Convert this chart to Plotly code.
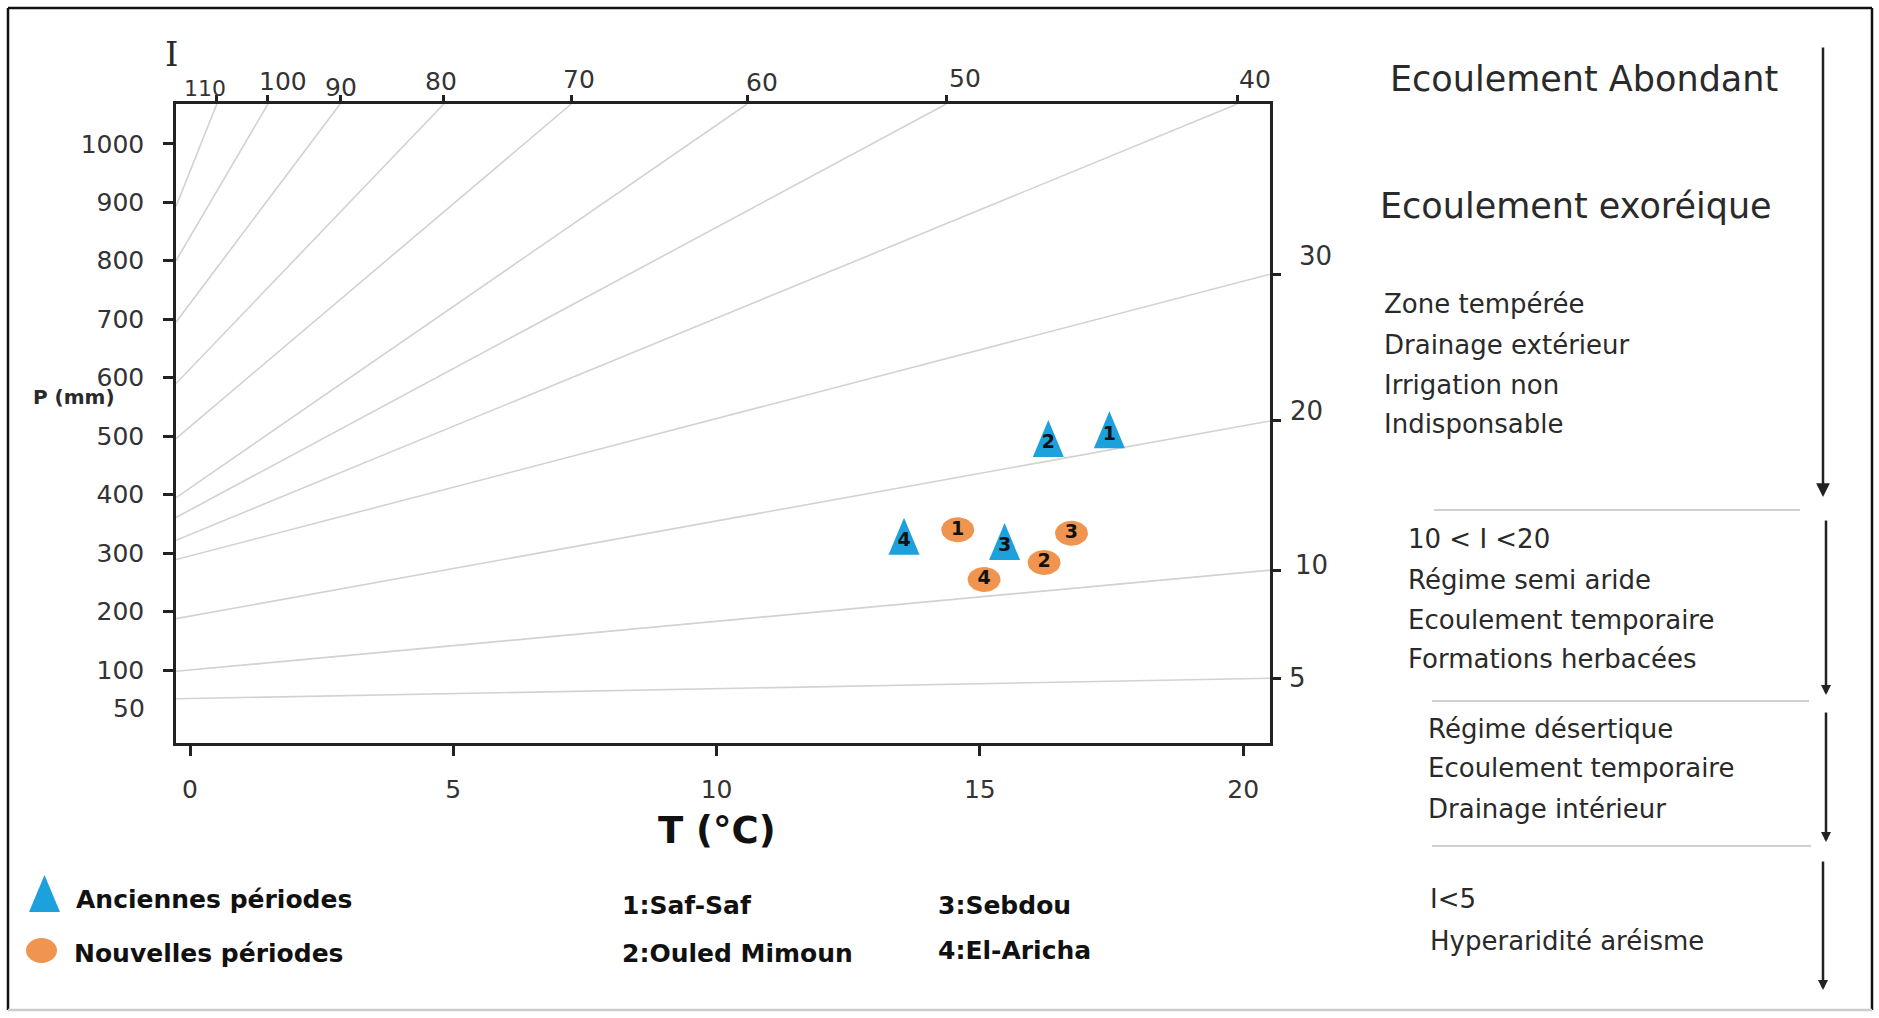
import math
import plotly.graph_objects as go

# ---------------- data ----------------
# De Martonne aridity index iso-lines (I), read from the abacus
iso_I = [110, 100, 90, 80, 70, 60, 50, 40, 30, 20, 10, 5]
iso_P_start = [893, 800, 695, 590, 496, 395, 361, 322, 289, 188, 98, 51]      # P (mm) on left axis
iso_T_end = [0.51, 1.48, 2.85, 4.82, 7.24, 10.58, 14.36, 19.89, 20.51, 20.51, 20.51, 20.51]
iso_P_end = [1068, 1068, 1068, 1068, 1068, 1068, 1068, 1068, 777, 526, 271, 86]

top_I_labels = ["110", "100", "90", "80", "70", "60", "50", "40"]
right_I_labels = ["30", "20", "10", "5"]

P_ticks = [100, 200, 300, 400, 500, 600, 700, 800, 900, 1000]
T_ticks = [0, 5, 10, 15, 20]

station_ids = ["1", "2", "3", "4"]
station_names = ["1:Saf-Saf", "2:Ouled Mimoun", "3:Sebdou", "4:El-Aricha"]
anciennes_T = [17.46, 16.30, 15.47, 13.56]
anciennes_P = [511, 496, 320, 329]
nouvelles_T = [14.58, 16.22, 16.74, 15.08]
nouvelles_P = [340, 284, 334, 255]

T_RANGE = [-0.266, 20.51]
P_RANGE = [-24.6, 1068]

# ---------------- layout helpers ----------------
W, H = 1879, 1018
L, R, TOP, BOT = 176, 1270, 104, 743
FONT = "DejaVu Sans"
INK = "#222222"
BLUE = "#1da1dc"
ORANGE = "#f0954f"

DT = (T_RANGE[1] - T_RANGE[0]) / (R - L)     # data units per pixel, x
DP = (P_RANGE[1] - P_RANGE[0]) / (BOT - TOP)  # data units per pixel, y


def px(x):
    return (x - L) / (R - L)


def py(y):
    return (BOT - y) / (BOT - TOP)


fig = go.Figure()

# iso-lines
for i, I in enumerate(iso_I):
    fig.add_trace(go.Scatter(
        x=[T_RANGE[0], iso_T_end[i]], y=[iso_P_start[i], iso_P_end[i]],
        mode="lines", line=dict(color="#d2d2d2", width=1.6),
        hoverinfo="skip", showlegend=False))

# top axis ticks (I) and right axis ticks (I)
fig.add_trace(go.Scatter(x=iso_T_end[:8], y=iso_P_end[:8], xaxis="x2", mode="markers",
                         marker=dict(size=1, opacity=0), showlegend=False, hoverinfo="skip"))
fig.add_trace(go.Scatter(x=iso_T_end[8:], y=iso_P_end[8:], yaxis="y2", mode="markers",
                         marker=dict(size=1, opacity=0), showlegend=False, hoverinfo="skip"))

# station markers: tall triangles (old periods) and ellipses (new periods)
TRI_HW, TRI_HH = 15.5, 18.5   # half width / half height in px
ELL_A, ELL_B = 16.5, 12.5     # semi-axes in px

tx, ty = [], []
for t, p in zip(anciennes_T, anciennes_P):
    tx += [t - TRI_HW * DT, t + TRI_HW * DT, t, t - TRI_HW * DT, None]
    ty += [p - TRI_HH * DP, p - TRI_HH * DP, p + TRI_HH * DP, p - TRI_HH * DP, None]
fig.add_trace(go.Scatter(x=tx, y=ty, mode="lines", fill="toself", fillcolor=BLUE,
                         line=dict(width=0, color=BLUE), name="Anciennes périodes",
                         showlegend=False, hoverinfo="skip"))

ex, ey = [], []
N = 36
for t, p in zip(nouvelles_T, nouvelles_P):
    for k in range(N + 1):
        a = 2 * math.pi * k / N
        ex.append(t + ELL_A * DT * math.cos(a))
        ey.append(p + ELL_B * DP * math.sin(a))
    ex.append(None)
    ey.append(None)
fig.add_trace(go.Scatter(x=ex, y=ey, mode="lines", fill="toself", fillcolor=ORANGE,
                         line=dict(width=0, color=ORANGE), name="Nouvelles périodes",
                         showlegend=False, hoverinfo="skip"))

num_font = dict(family=FONT, size=19, color="#111111", weight="bold")
fig.add_trace(go.Scatter(x=anciennes_T, y=[p - 5 * DP for p in anciennes_P], mode="text",
                         text=station_ids, textposition="middle center", textfont=num_font,
                         showlegend=False, hoverinfo="skip"))
fig.add_trace(go.Scatter(x=nouvelles_T, y=nouvelles_P, mode="text",
                         text=station_ids, textposition="middle center", textfont=num_font,
                         showlegend=False, hoverinfo="skip"))

axis_common = dict(showgrid=False, zeroline=False, showline=True, linecolor=INK, linewidth=2.5,
                   ticks="outside", tickcolor=INK, tickwidth=3,
                   tickfont=dict(family=FONT, size=25, color="#333333"))

fig.update_layout(
    width=W, height=H,
    margin=dict(l=L, r=W - R, t=TOP, b=H - BOT, pad=0),
    paper_bgcolor="white", plot_bgcolor="white",
    showlegend=False,
    xaxis=dict(range=T_RANGE, tickvals=T_ticks, ticklen=10, ticklabelstandoff=12, **axis_common),
    xaxis2=dict(range=T_RANGE, overlaying="x", side="top", tickvals=iso_T_end[:8],
                showticklabels=False, ticklen=6, **axis_common),
    yaxis=dict(range=P_RANGE, tickvals=P_ticks, ticklen=10, ticklabelstandoff=14, **axis_common),
    yaxis2=dict(range=P_RANGE, overlaying="y", side="right", tickvals=iso_P_end[8:],
                showticklabels=False, ticklen=8, **axis_common),
)

ann = []


def text(x, y, s, size=26, anchor="left", bold=False, family=FONT, color="#2a2a2a"):
    ann.append(dict(x=px(x), y=py(y), xref="paper", yref="paper", text=s, showarrow=False,
                    xanchor=anchor, yanchor="middle",
                    font=dict(family=family, size=size, color=color,
                              weight="bold" if bold else "normal")))


# top I labels (hand-placed beside their ticks)
top_shift = [-12, 15, 1, -3, 8, 15, 19, 18]
top_y = [88, 82, 87, 82, 80, 83, 78, 80]
top_size = [22, 25, 25, 25, 25, 25, 25, 25]
for i, lab in enumerate(top_I_labels):
    ann.append(dict(x=iso_T_end[i], y=py(top_y[i]), xref="x", yref="paper", text=lab,
                    showarrow=False, xanchor="center", yanchor="middle", xshift=top_shift[i],
                    font=dict(family=FONT, size=top_size[i], color="#333333")))
# right I labels
right_x = [1315, 1306, 1312, 1297]
right_shift = [18, 10, 5, 0]
for i, lab in enumerate(right_I_labels):
    ann.append(dict(x=px(right_x[i]), y=iso_P_end[8 + i], xref="paper", yref="y", text=lab,
                    showarrow=False, xanchor="center", yanchor="middle", yshift=right_shift[i],
                    font=dict(family=FONT, size=26, color="#333333")))

# axis titles & extras
text(171, 54, "I", size=34, anchor="center", family="DejaVu Serif")
text(74, 397, "P (mm)", size=20, anchor="center", bold=True)
text(717, 830, "T (°C)", size=37, anchor="center", bold=True, color="#111111")
ann.append(dict(x=px(147), y=35, xref="paper", yref="y", text="50", showarrow=False,
                xanchor="right", yanchor="middle",
                font=dict(family=FONT, size=25, color="#333333")))

# right-hand classification text
text(1584, 79, "Ecoulement Abondant", size=35, anchor="center")
text(1576, 206, "Ecoulement exoréique", size=35, anchor="center")
for yy, s in zip([304, 345, 385, 424],
                 ["Zone tempérée", "Drainage extérieur", "Irrigation non", "Indisponsable"]):
    text(1382, yy, s, size=26)
for yy, s in zip([539, 580, 620, 659],
                 ["10 < I <20", "Régime semi aride", "Ecoulement temporaire", "Formations herbacées"]):
    text(1406, yy, s, size=26)
for yy, s in zip([729, 768, 809],
                 ["Régime désertique", "Ecoulement temporaire", "Drainage intérieur"]):
    text(1426, yy, s, size=26)
for yy, s in zip([899, 941], ["I<5", "Hyperaridité aréisme"]):
    text(1428, yy, s, size=26)

# legend text
text(74, 899, "Anciennes périodes", size=25, bold=True, color="#111111")
text(72, 953, "Nouvelles périodes", size=25, bold=True, color="#111111")
text(620, 906, station_names[0], size=25, bold=True, color="#111111")
text(620, 953, station_names[1], size=25, bold=True, color="#111111")
text(936, 906, station_names[2], size=25, bold=True, color="#111111")
text(936, 950, station_names[3], size=25, bold=True, color="#111111")

# arrows (tail offset in pixels)
for (xx, y0, y1, sz) in [(1823, 46, 497, 1.1), (1826, 519, 695, 0.8),
                         (1826, 711, 842, 0.8), (1823, 860, 990, 0.8)]:
    ann.append(dict(x=px(xx), y=py(y1), xref="paper", yref="paper",
                    ax=0, ay=-(y1 - y0), axref="pixel", ayref="pixel", text="", showarrow=True,
                    arrowhead=2, arrowsize=sz, arrowwidth=2.5, arrowcolor=INK))

fig.update_layout(annotations=ann)

shapes = []
# separators
for (x0, x1, yy) in [(1434, 1800, 510), (1432, 1809, 701), (1432, 1811, 846)]:
    shapes.append(dict(type="line", xref="paper", yref="paper", x0=px(x0), x1=px(x1),
                       y0=py(yy), y1=py(yy), line=dict(color="#d0d0d0", width=2)))
# outer border
for (x0, y0, x1, y1, c) in [(8, 8, 1872, 8, "#111111"), (8, 8, 8, 1010, "#111111"),
                            (1872, 8, 1872, 1010, "#111111"), (8, 1010, 1872, 1010, "#cccccc")]:
    shapes.append(dict(type="line", xref="paper", yref="paper", x0=px(x0), x1=px(x1),
                       y0=py(y0), y1=py(y1), line=dict(color=c, width=2.5)))
# legend symbols
shapes.append(dict(type="path", xref="paper", yref="paper",
                   path=f"M {px(29)},{py(912)} L {px(60)},{py(912)} L {px(44.5)},{py(875)} Z",
                   fillcolor=BLUE, line=dict(width=0)))
shapes.append(dict(type="circle", xref="paper", yref="paper",
                   x0=px(26), x1=px(57), y0=py(963), y1=py(938),
                   fillcolor=ORANGE, line=dict(width=0)))
fig.update_layout(shapes=shapes)

fig.write_html("out.html", config={"displayModeBar": False},
               post_script="document.body.style.margin='0';")
